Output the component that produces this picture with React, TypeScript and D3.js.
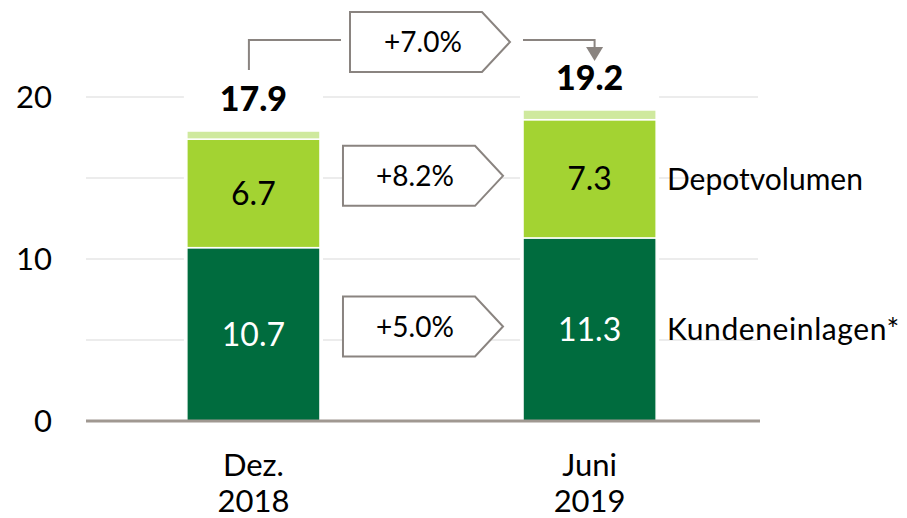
import React from "react";
import * as d3 from "d3";

const categories = ["Dez.|2018", "Juni|2019"];
const kundeneinlagen = [10.7, 11.3];
const depotvolumen = [6.7, 7.3];
const sonstige = [0.5, 0.6];
const totals = [17.9, 19.2];
const seriesNames = ["Kundeneinlagen*", "Depotvolumen"];
const seriesGrowth = ["+5.0%", "+8.2%"];
const totalGrowth = "+7.0%";
const yTicks = [0, 10, 20];
const gridTicks = [5, 10, 15, 20];

const W = 907;
const H = 518;
const FONT = "Lato, 'Open Sans', sans-serif";
const DARK = "#006c3e";
const LIGHT = "#a3d332";
const PALE = "#cfe99e";
const GRAY = "#8a8480";

export default function App() {
  const y = d3.scaleLinear().domain([0, 20]).range([421, 97]);
  const x = d3
    .scaleBand<string>()
    .domain(categories)
    .range([86, 757])
    .paddingInner(0.604)
    .paddingOuter(0.3);
  const bw = x.bandwidth();

  const stackData = categories.map((c, i) => ({
    c,
    k: kundeneinlagen[i],
    d: depotvolumen[i],
    s: sonstige[i],
  }));
  const stack = d3.stack<any>().keys(["k", "d", "s"])(stackData);
  const fills = [DARK, LIGHT, PALE];
  const labelColors = ["#ffffff", "#000000"];

  const x0 = x(categories[0])!;
  const x1 = x(categories[1])!;
  const c0 = x0 + bw / 2;
  const c1 = x1 + bw / 2;

  const boxPath = (left: number, tip: number, cy: number, h: number) => {
    const r = tip - 28;
    return `M${left},${cy - h / 2}H${r}L${tip},${cy}L${r},${cy + h / 2}H${left}Z`;
  };

  const bLeft = x0 + bw + 23;
  const bTip = x1 - 20;

  return (
    <svg width={W} height={H} style={{ position: "absolute", left: 0, top: 0 }} fontFamily={FONT}>
      <rect width={W} height={H} fill="#fff" />
      {gridTicks.map((t) => (
        <line key={t} x1={86} x2={758} y1={y(t)} y2={y(t)} stroke="#e6e6e6" strokeWidth={1.5} />
      ))}
      {/* white gaps around bars */}
      {categories.map((c) => (
        <rect key={c} x={x(c)! - 3} y={y(20.5)} width={bw + 6} height={y(0) - y(20.5)} fill="#fff" />
      ))}
      {stack.map((layer, li) =>
        layer.map((d, i) => (
          <rect
            key={`${li}-${i}`}
            x={x(categories[i])!}
            y={y(d[1])}
            width={bw}
            height={y(d[0]) - y(d[1])}
            fill={fills[li]}
            stroke="#fff"
            strokeWidth={1.5}
          />
        ))
      )}
      {stack.slice(0, 2).map((layer, li) =>
        layer.map((d, i) => (
          <text
            key={`l${li}-${i}`}
            x={x(categories[i])! + bw / 2}
            y={y((d[0] + d[1]) / 2)}
            dy="0.36em"
            textAnchor="middle"
            fontSize={32}
            fill={labelColors[li]}
          >
            {(li === 0 ? kundeneinlagen[i] : depotvolumen[i]).toFixed(1)}
          </text>
        ))
      )}
      {totals.map((t, i) => (
        <text
          key={`t${i}`}
          x={x(categories[i])! + bw / 2}
          y={y(t) - 20}
          textAnchor="middle"
          fontSize={34}
          fontWeight={900}
          fill="#000"
        >
          {t.toFixed(1)}
        </text>
      ))}
      {/* baseline */}
      <line x1={86} x2={760} y1={y(0)} y2={y(0)} stroke="#a09891" strokeWidth={3} />
      {/* y ticks */}
      {yTicks.map((t) => (
        <text key={t} x={52} y={y(t)} dy="0.36em" textAnchor="end" fontSize={31} fill="#000">
          {t}
        </text>
      ))}
      {/* x labels */}
      {categories.map((c) => (
        <text key={c} x={x(c)! + bw / 2} textAnchor="middle" fontSize={31} fill="#000">
          <tspan x={x(c)! + bw / 2} y={476}>
            {c.split("|")[0]}
          </tspan>
          <tspan x={x(c)! + bw / 2} y={512}>
            {c.split("|")[1]}
          </tspan>
        </text>
      ))}
      {/* series labels */}
      {[0, 1].map((li) => {
        const d = stack[li][1];
        return (
          <text key={`s${li}`} x={667} y={y((d[0] + d[1]) / 2)} dy="0.36em" fontSize={30} letterSpacing={li === 0 ? 0.6 : 0} fill="#000">
            {seriesNames[li]}
          </text>
        );
      })}
      {/* series growth boxes */}
      {[0, 1].map((li) => {
        const d = stack[li][1];
        const cy = y((d[0] + d[1]) / 2) - 3;
        return (
          <g key={`g${li}`}>
            <path d={boxPath(bLeft, bTip, cy, 60)} fill="#fff" stroke={GRAY} strokeWidth={2} />
            <text x={(bLeft + bTip - 28) / 2 + 6} y={cy} dy="0.36em" textAnchor="middle" fontSize={28} fill="#000">
              {seriesGrowth[li]}
            </text>
          </g>
        );
      })}
      {/* total growth */}
      <g>
        <path d={`M${c0 - 4.5},${y(totals[0]) - 61}V40H341`} fill="none" stroke={GRAY} strokeWidth={2} />
        <path d={boxPath(350, 510, 42, 60)} fill="#fff" stroke={GRAY} strokeWidth={2} />
        <text x={423} y={42} dy="0.36em" textAnchor="middle" fontSize={28} fill="#000">
          {totalGrowth}
        </text>
        <path d={`M523,40H${c1 + 5}V48`} fill="none" stroke={GRAY} strokeWidth={2} />
        <path d={`M${c1 + 5 - 8.5},47L${c1 + 5 + 8.5},47L${c1 + 5},61Z`} fill={GRAY} />
      </g>
    </svg>
  );
}
